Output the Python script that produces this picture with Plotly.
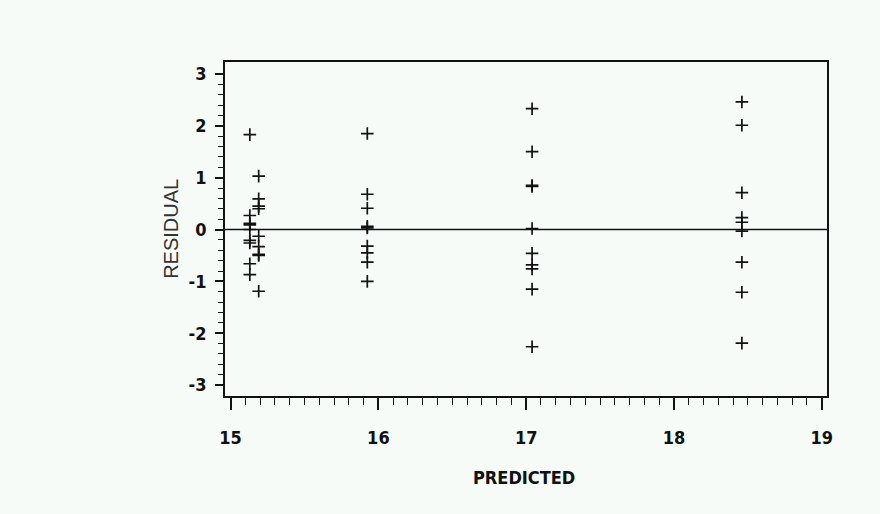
import numpy as np
import plotly.graph_objects as go

# Residuals from the fitted model, grouped by predicted value
pred_a = [15.13] * 9
res_a = [1.83, 0.27, 0.12, 0.09, 0.00, -0.21, -0.26, -0.66, -0.87]

pred_b = [15.19] * 9
res_b = [1.03, 0.59, 0.45, 0.40, -0.13, -0.33, -0.48, -0.50, -1.19]

pred_c = [15.925] * 9
res_c = [1.85, 0.68, 0.41, 0.06, 0.03, -0.32, -0.45, -0.63, -1.00]

pred_d = [17.04] * 10
res_d = [2.33, 1.50, 0.85, 0.83, 0.02, -0.46, -0.68, -0.76, -1.15, -2.26]

pred_e = [18.46] * 9
res_e = [2.46, 2.01, 0.71, 0.23, 0.14, -0.03, -0.63, -1.21, -2.19]

x_ticks = [15, 16, 17, 18, 19]
y_ticks = [-3, -2, -1, 0, 1, 2, 3]
y_tick_text = ["-3", "-2", "-1", "0", "1", "2", "3"]

predicted = pred_a + pred_b + pred_c + pred_d + pred_e
residual = res_a + res_b + res_c + res_d + res_e

BG = "#F6FBF8"
INK = "#111111"
COND = "DejaVu Sans Condensed, Liberation Sans, sans-serif"
TICK_FONT = dict(family=COND, size=18, color=INK, weight="bold")

x_minor = [round(v, 1) for v in np.arange(15.1, 19.0, 0.1)
           if abs(v - round(v)) > 1e-6]
y_minor = [round(v, 1) for v in np.arange(-2.8, 3.0, 0.2)
           if abs(v - round(v)) > 1e-6]

fig = go.Figure()
fig.add_trace(go.Scatter(
    x=predicted, y=residual, mode="markers",
    marker=dict(symbol="cross-thin", size=9, color=INK,
                line=dict(color=INK, width=1.7)),
    showlegend=False, hoverinfo="x+y",
))

# zero reference line across the frame
fig.add_shape(type="line", xref="paper", yref="y", x0=0, x1=1, y0=0, y1=0,
              line=dict(color=INK, width=1.6))

fig.update_xaxes(
    range=[14.962, 19.036], tickmode="array", tickvals=x_ticks,
    ticks="outside", ticklen=12, tickwidth=1.5, tickcolor=INK,
    minor=dict(tickmode="array", tickvals=x_minor, ticks="outside",
               ticklen=7, tickwidth=1.2, tickcolor=INK, showgrid=False),
    showline=True, mirror=True, linecolor=INK, linewidth=1.6,
    showgrid=False, zeroline=False, tickfont=TICK_FONT,
    ticklabelstandoff=13,
)
fig.update_yaxes(
    range=[-3.21, 3.23], tickmode="array", tickvals=y_ticks,
    ticktext=y_tick_text,
    ticks="outside", ticklen=8, tickwidth=1.5, tickcolor=INK,
    minor=dict(tickmode="array", tickvals=y_minor, ticks="outside",
               ticklen=5, tickwidth=1.2, tickcolor=INK, showgrid=False),
    showline=True, mirror=True, linecolor=INK, linewidth=1.6,
    showgrid=False, zeroline=False, tickfont=TICK_FONT,
    ticklabelstandoff=5,
)

fig.add_annotation(
    text="RESIDUAL", xref="paper", yref="paper", x=-0.09, y=0.5,
    xanchor="center", yanchor="middle", textangle=-90, showarrow=False,
    font=dict(family="Liberation Sans, sans-serif", size=20, color="#333333"),
)
fig.add_annotation(
    text="PREDICTED", xref="paper", yref="paper", x=0.497, y=-0.245,
    xanchor="center", yanchor="middle", showarrow=False,
    font=dict(family=COND, size=18, color=INK, weight="bold"),
)

fig.update_layout(
    width=880, height=514,
    margin=dict(l=225, r=53, t=62, b=118),
    paper_bgcolor=BG, plot_bgcolor=BG,
)

fig.write_html("out.html")
